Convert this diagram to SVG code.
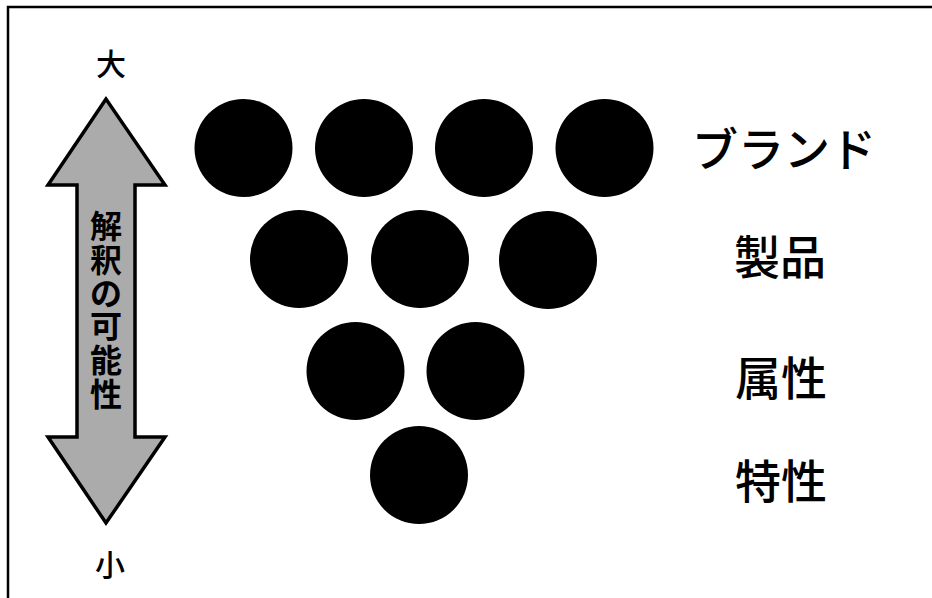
<svg xmlns="http://www.w3.org/2000/svg" width="932" height="598" viewBox="0 0 932 598">
<style>
.dot{fill:#000}
.jp{font-family:"Noto Sans CJK JP","Noto Sans CJK SC",sans-serif;fill:#000}
.lbl{font-size:46px;font-weight:500;text-anchor:middle;dominant-baseline:central}
.end{font-size:30px;font-weight:500;text-anchor:middle;dominant-baseline:central}
.vt{font-size:32px;font-weight:bold;text-anchor:middle;dominant-baseline:central}
</style>
<rect x="0" y="0" width="932" height="598" fill="#fff"/>
<path d="M8,598 V7 H932" fill="none" stroke="#000" stroke-width="2.5"/>
<g id="axis">
<polygon points="106,99 48,185 77,185 77,437 48,437 106,523 165,437 135,437 135,185 165,185" fill="#ababab" stroke="#000" stroke-width="3.5" stroke-linejoin="miter"/>
<g class="jp vt">
<text x="106" y="224">解</text>
<text x="106" y="258">釈</text>
<text x="106" y="291">の</text>
<text x="106" y="324">可</text>
<text x="106" y="358">能</text>
<text x="106" y="392">性</text>
</g>
</g>
<g id="label-large"><text class="jp end" x="111" y="62">大</text></g>
<g id="label-small"><text class="jp end" x="110" y="563">小</text></g>
<g id="row-brand">
<circle class="dot" cx="243.5" cy="148" r="49"/>
<circle class="dot" cx="364" cy="148" r="49"/>
<circle class="dot" cx="484" cy="148" r="49"/>
<circle class="dot" cx="604.5" cy="148" r="49"/>
<text class="jp lbl" x="784" y="146">ブランド</text>
</g>
<g id="row-product">
<circle class="dot" cx="299" cy="259" r="49"/>
<circle class="dot" cx="420" cy="259" r="49"/>
<circle class="dot" cx="548" cy="260" r="49"/>
<text class="jp lbl" x="780" y="254">製品</text>
</g>
<g id="row-attribute">
<circle class="dot" cx="355.5" cy="371" r="49"/>
<circle class="dot" cx="475.5" cy="371" r="49"/>
<text class="jp lbl" x="781" y="375">属性</text>
</g>
<g id="row-characteristic">
<circle class="dot" cx="419" cy="475" r="49"/>
<text class="jp lbl" x="781" y="478">特性</text>
</g>
</svg>
